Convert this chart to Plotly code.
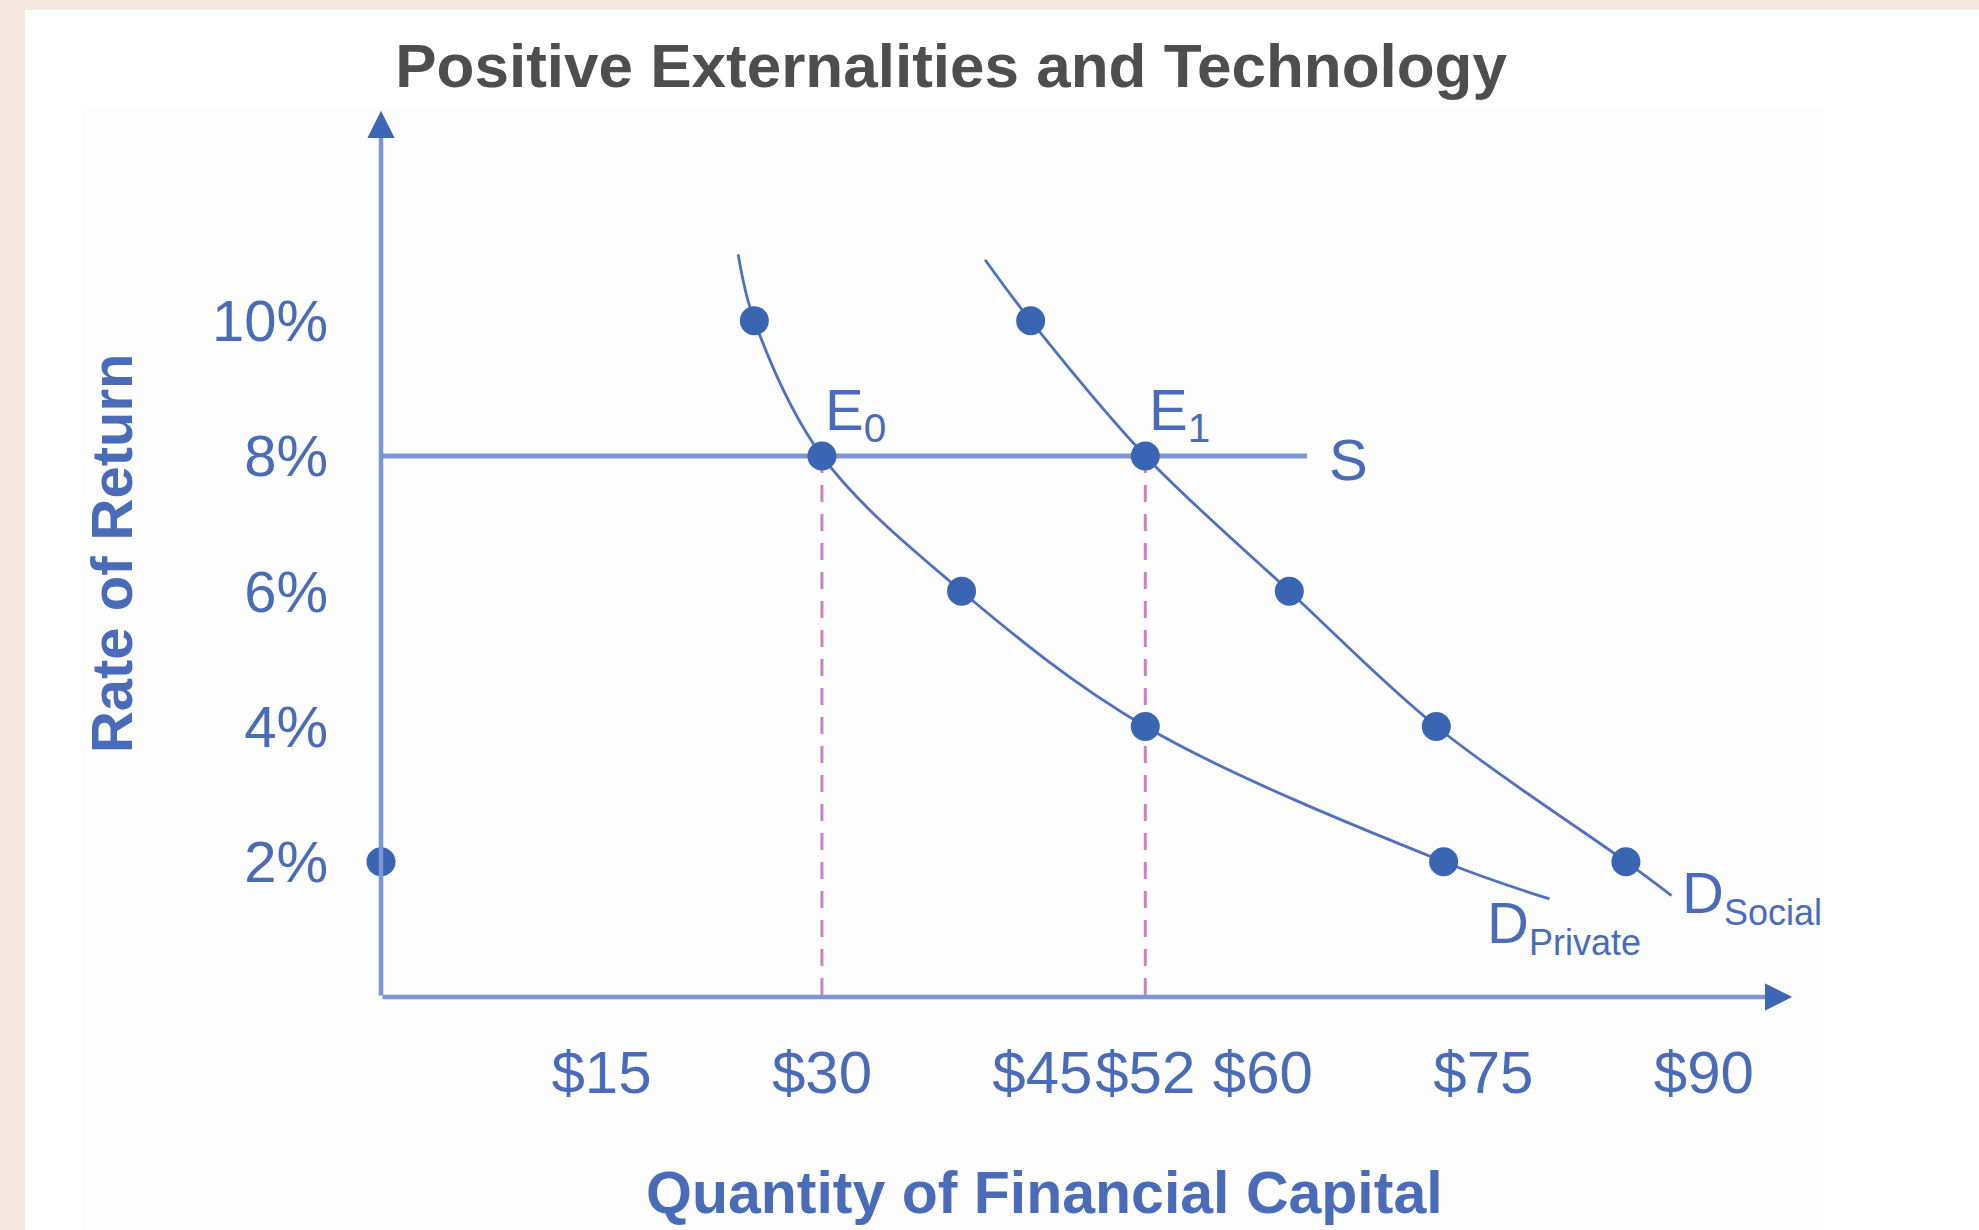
import plotly.graph_objects as go

# ---------------- data ----------------
x_tick_vals = [15, 30, 45, 52, 60, 75, 90]
x_tick_text = ["$15", "$30", "$45", "$52", "$60", "$75", "$90"]
y_tick_vals = [2, 4, 6, 8, 10]
y_tick_text = ["2%", "4%", "6%", "8%", "10%"]

# demand curves (first and last entries are the curve ends, the rest are dots)
private_x = [24.3, 25.4, 30, 39.5, 52, 72.3, 79.5]
private_y = [10.98, 10, 8, 6, 4, 2, 1.45]
social_x = [41.1, 44.2, 52, 61.8, 71.8, 84.7, 87.8]
social_y = [10.9, 10, 8, 6, 4, 2, 1.5]

# supply line
supply_x = [0, 63]
supply_y = [8, 8]

# equilibria
eq_x = [30, 52]
eq_y = [8, 8]
eq_labels = ["E<sub>0</sub>", "E<sub>1</sub>"]

# point on the vertical axis
axis_point_x = [0]
axis_point_y = [2]

# ---------------- styles ----------------
FONT = "Liberation Sans, Arial, Helvetica, sans-serif"
TITLE_C = "#4e4e4e"
TEXT_BLUE = "#4a6bb8"
LINE_BLUE = "#4f70c0"
AXIS_BLUE = "#7c95d5"
HEAD_BLUE = "#3d66b5"
DOT = "#3a65b3"
DASH_C = "#c983c3"
BEIGE = "#f4e8e0"

X_MAX = 96.0
Y_MAX = 13.1

fig = go.Figure()

# dashed drop lines
for ex, ey in zip(eq_x, eq_y):
    fig.add_trace(go.Scatter(x=[ex, ex], y=[ey, 0], mode="lines",
                             line=dict(color=DASH_C, width=3, dash="17px,12px"),
                             hoverinfo="skip", cliponaxis=False))

# supply
fig.add_trace(go.Scatter(x=supply_x, y=supply_y, mode="lines",
                         line=dict(color=AXIS_BLUE, width=5),
                         hoverinfo="skip", cliponaxis=False))

# demand curves
for cx, cy in [(private_x, private_y), (social_x, social_y)]:
    fig.add_trace(go.Scatter(x=cx, y=cy, mode="lines",
                             line=dict(color=LINE_BLUE, width=2.8, shape="spline", smoothing=1.0),
                             hoverinfo="skip", cliponaxis=False))
    fig.add_trace(go.Scatter(x=cx[1:-1], y=cy[1:-1], mode="markers",
                             marker=dict(color=DOT, size=29),
                             hoverinfo="skip", cliponaxis=False))

fig.add_trace(go.Scatter(x=axis_point_x, y=axis_point_y, mode="markers",
                         marker=dict(color=DOT, size=29),
                         hoverinfo="skip", cliponaxis=False))

annotations = []
# axis arrows: light line, then darker head on top
annotations.append(dict(x=X_MAX, y=0, ax=0, ay=0, xref="x", yref="y", axref="x", ayref="y",
                        text="", showarrow=True, arrowhead=2, arrowsize=1.2, arrowwidth=4.5,
                        arrowcolor=AXIS_BLUE))
annotations.append(dict(x=0, y=Y_MAX, ax=0, ay=0, xref="x", yref="y", axref="x", ayref="y",
                        text="", showarrow=True, arrowhead=2, arrowsize=1.2, arrowwidth=4.5,
                        arrowcolor=AXIS_BLUE))
annotations.append(dict(x=X_MAX, y=0, ax=X_MAX - 1.5, ay=0, xref="x", yref="y", axref="x", ayref="y",
                        text="", showarrow=True, arrowhead=2, arrowsize=1.2, arrowwidth=4.5,
                        arrowcolor=HEAD_BLUE))
annotations.append(dict(x=0, y=Y_MAX, ax=0, ay=Y_MAX - 0.35, xref="x", yref="y", axref="x", ayref="y",
                        text="", showarrow=True, arrowhead=2, arrowsize=1.2, arrowwidth=4.5,
                        arrowcolor=HEAD_BLUE))

# equilibrium labels
for ex, ey, lab in zip(eq_x, eq_y, eq_labels):
    annotations.append(dict(x=ex + 0.1, y=ey + 0.62, xref="x", yref="y", text=lab,
                            showarrow=False, xanchor="left", yanchor="middle",
                            font=dict(family=FONT, size=58, color=TEXT_BLUE)))

# S label
annotations.append(dict(x=supply_x[-1] + 2.8, y=supply_y[-1] - 0.06, xref="x", yref="y", text="S",
                        showarrow=False, xanchor="center", yanchor="middle",
                        font=dict(family=FONT, size=58, color=TEXT_BLUE)))

# demand labels
annotations.append(dict(x=private_x[-1] - 4.4, y=private_y[-1] - 0.41, xref="x", yref="y",
                        text="D<sub><span style='font-size:36px'>Private</span></sub>",
                        showarrow=False, xanchor="left", yanchor="middle",
                        font=dict(family=FONT, size=58, color=TEXT_BLUE)))
annotations.append(dict(x=social_x[-1] + 0.6, y=social_y[-1] - 0.01, xref="x", yref="y",
                        text="D<sub><span style='font-size:36px'>Social</span></sub>",
                        showarrow=False, xanchor="left", yanchor="middle",
                        font=dict(family=FONT, size=58, color=TEXT_BLUE)))

# axis titles
annotations.append(dict(x=-0.1913, y=0.5011, xref="paper", yref="paper", text="<b>Rate of Return</b>",
                        textangle=-90, showarrow=False, xanchor="center", yanchor="middle",
                        font=dict(family=FONT, size=58, color=TEXT_BLUE)))
annotations.append(dict(x=0.4699, y=-0.2212, xref="paper", yref="paper",
                        text="<b>Quantity of Financial Capital</b>",
                        showarrow=False, xanchor="center", yanchor="middle",
                        font=dict(family=FONT, size=59, color=TEXT_BLUE)))

shapes = [
    dict(type="rect", xref="paper", yref="paper", x0=-0.2523, x1=1.2, y0=-0.35, y1=1.114,
         fillcolor="#ffffff", line=dict(width=0), layer="below"),
    dict(type="rect", xref="paper", yref="paper", x0=-0.2119, x1=1.0227, y0=-0.35, y1=1.0034,
         fillcolor="#fdfdfd", line=dict(width=0), layer="below"),
]

fig.update_layout(
    width=1979, height=1230,
    margin=dict(l=381, r=187, t=111, b=233, pad=0),
    paper_bgcolor=BEIGE,
    plot_bgcolor="rgba(0,0,0,0)",
    showlegend=False,
    title=dict(text="<b>Positive Externalities and Technology</b>",
               x=0.4806, xref="container", xanchor="center",
               y=0.947, yref="container", yanchor="middle",
               font=dict(family=FONT, size=62, color=TITLE_C)),
    xaxis=dict(range=[0, X_MAX], tickvals=x_tick_vals, ticktext=x_tick_text,
               showgrid=False, zeroline=False, showline=False, ticks="",
               ticklabelstandoff=35, fixedrange=True,
               tickfont=dict(family=FONT, size=60, color=TEXT_BLUE)),
    yaxis=dict(range=[0, Y_MAX], tickvals=y_tick_vals, ticktext=y_tick_text,
               showgrid=False, zeroline=False, showline=False, ticks="",
               ticklabelstandoff=52, fixedrange=True,
               tickfont=dict(family=FONT, size=58, color=TEXT_BLUE)),
    annotations=annotations,
    shapes=shapes,
)

fig.write_html("out.html", config={"displayModeBar": False},
               post_script="document.body.style.margin='0';")
